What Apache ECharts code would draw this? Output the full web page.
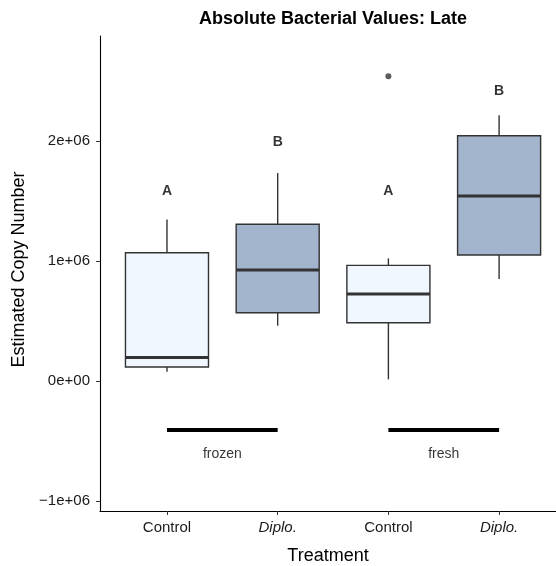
<!DOCTYPE html>
<html>
<head>
<meta charset="utf-8">
<script src="https://cdn.jsdelivr.net/npm/echarts@6/dist/echarts.min.js"></script>
<style>html,body{margin:0;padding:0;background:#fff}#c{width:556px;height:566px}</style>
</head>
<body>
<div id="c"></div>
<script>
// ---- data ----
const categories = ['Control', 'Diplo.', 'Control', 'Diplo.'];
const groupLabels = ['frozen', 'fresh'];
const groupSpans = [[1, 2], [3, 4]];
const whiskerLow = [0.078e6, 0.461e6, 0.014e6, 0.85e6];
const q1 = [0.117e6, 0.569e6, 0.486e6, 1.05e6];
const median = [0.197e6, 0.925e6, 0.725e6, 1.542e6];
const q3 = [1.069e6, 1.306e6, 0.964e6, 2.044e6];
const whiskerHigh = [1.347e6, 1.733e6, 1.022e6, 2.214e6];
const outliers = [[3, 2.539e6]];
const letters = ['A', 'B', 'A', 'B'];
const letterY = [1.586e6, 1.99e6, 1.586e6, 2.414e6];
const groupBarY = -0.405e6;
const groupLabelY = -0.608e6;
const yTicks = [-1e6, 0, 1e6, 2e6];
const yTickLabels = ['\u22121e+06', '0e+00', '1e+06', '2e+06'];

const boxData = categories.map((c, i) => [i + 1, whiskerLow[i], q1[i], median[i], q3[i], whiskerHigh[i]]);
const fills = { 'Control': '#F0F7FE', 'Diplo.': '#A2B5CD' };

const chart = echarts.init(document.getElementById('c'));
const ff = '"Liberation Sans", Arial, Helvetica, sans-serif';

chart.setOption({
  animation: false,
  grid: { left: 100, top: 36, right: 0, height: 475, containLabel: false, outerBoundsMode: 'none' },
  graphic: [{
    type: 'text', x: 333, y: 19,
    style: { text: 'Absolute Bacterial Values: Late', font: 'bold 18px ' + ff, fill: '#000', align: 'center', verticalAlign: 'middle' }
  }],
  xAxis: {
    type: 'value', min: 0.395, max: 4.514,
    name: 'Treatment', nameLocation: 'middle', nameGap: 36,
    nameTextStyle: { fontFamily: ff, fontSize: 18, color: '#000' },
    splitLine: { show: false },
    axisLine: { show: true, onZero: false, lineStyle: { color: '#000', width: 1.1 } },
    axisTick: { show: true, length: 4, customValues: [1, 2, 3, 4], lineStyle: { color: '#333' } },
    axisLabel: {
      customValues: [1, 2, 3, 4], margin: 9,
      fontFamily: ff, fontSize: 15, color: '#1a1a1a',
      formatter: v => { const c = categories[Math.round(v) - 1]; return c === 'Diplo.' ? '{i|' + c + '}' : c; },
      rich: { i: { fontStyle: 'italic', fontFamily: ff, fontSize: 15, color: '#1a1a1a' } }
    }
  },
  yAxis: {
    type: 'value', min: -1.083e6, max: 2.875e6,
    name: 'Estimated Copy Number', nameLocation: 'middle', nameGap: 66,
    nameTextStyle: { fontFamily: ff, fontSize: 18, color: '#000', padding: [0, 0, 0, 8] },
    splitLine: { show: false },
    axisLine: { show: true, onZero: false, lineStyle: { color: '#000', width: 1.1 } },
    axisTick: { show: true, length: 4, customValues: yTicks, lineStyle: { color: '#333' } },
    axisLabel: {
      customValues: yTicks, margin: 10,
      fontFamily: ff, fontSize: 15, color: '#1a1a1a',
      formatter: v => { const k = yTicks.findIndex(t => Math.abs(t - v) < 1); return k >= 0 ? yTickLabels[k] : ''; }
    }
  },
  series: [
    {
      type: 'custom',
      data: boxData,
      renderItem: (params, api) => {
        const x = api.value(0);
        const lo = api.coord([x, api.value(1)]);
        const b1 = api.coord([x, api.value(2)]);
        const md = api.coord([x, api.value(3)]);
        const b3 = api.coord([x, api.value(4)]);
        const hi = api.coord([x, api.value(5)]);
        const hw = api.size([0.75, 0])[0] / 2;
        const fill = fills[categories[params.dataIndex]];
        const stroke = '#333';
        return {
          type: 'group',
          children: [
            { type: 'line', shape: { x1: hi[0], y1: hi[1], x2: b3[0], y2: b3[1] }, style: { stroke, lineWidth: 1.4 } },
            { type: 'line', shape: { x1: b1[0], y1: b1[1], x2: lo[0], y2: lo[1] }, style: { stroke, lineWidth: 1.4 } },
            { type: 'rect', shape: { x: b3[0] - hw, y: b3[1], width: hw * 2, height: b1[1] - b3[1] }, style: { fill, stroke, lineWidth: 1.4 } },
            { type: 'line', shape: { x1: md[0] - hw, y1: md[1], x2: md[0] + hw, y2: md[1] }, style: { stroke, lineWidth: 3 } }
          ]
        };
      }
    },
    {
      type: 'scatter', data: outliers, symbolSize: 6,
      itemStyle: { color: '#333' }
    },
    {
      type: 'scatter', symbolSize: 0,
      data: letters.map((l, i) => [i + 1, letterY[i]]),
      label: { show: true, position: 'inside', formatter: p => letters[p.dataIndex], fontFamily: ff, fontWeight: 'bold', fontSize: 14, color: '#000' }
    },
    {
      type: 'lines', coordinateSystem: 'cartesian2d',
      data: groupSpans.map(s => ({ coords: [[s[0], groupBarY], [s[1], groupBarY]] })),
      lineStyle: { color: '#000', width: 4, opacity: 1 }
    },
    {
      type: 'scatter', symbolSize: 0,
      data: groupSpans.map(s => [(s[0] + s[1]) / 2, groupLabelY]),
      label: { show: true, position: 'inside', formatter: p => groupLabels[p.dataIndex], fontFamily: ff, fontSize: 14, color: '#000' }
    }
  ]
});
</script>
</body>
</html>
